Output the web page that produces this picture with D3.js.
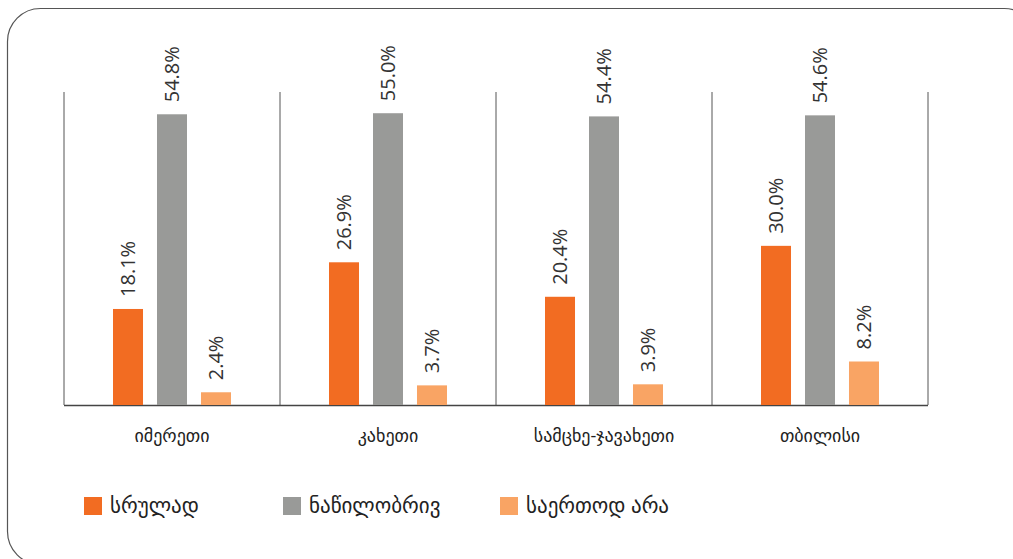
<!DOCTYPE html>
<html>
<head>
<meta charset="utf-8">
<script src="https://cdn.jsdelivr.net/npm/d3@7"></script>
<style>
  body { margin: 0; background: #fff; }
  svg { display: block; font-family: "Open Sans", "DejaVu Sans", sans-serif; }
</style>
</head>
<body>
<svg id="chart" width="1013" height="559"></svg>
<script>
// data
const regions = ['იმერეთი', 'კახეთი', 'სამცხე-ჯავახეთი', 'თბილისი']
const seriesNames = ['სრულად', 'ნაწილობრივ', 'საერთოდ არა']
const fully = [18.1, 26.9, 20.4, 30.0]
const partly = [54.8, 55.0, 54.4, 54.6]
const notAtAll = [2.4, 3.7, 3.9, 8.2]
const colors = ['#f26c22', '#999a98', '#f9a464']

const seriesValues = [fully, partly, notAtAll]

const svg = d3.select('#chart')

// frame with rounded corners (runs off the right/bottom edge)
svg.append('rect')
    .attr('x', 7.5)
    .attr('y', 8.5)
    .attr('width', 1030)
    .attr('height', 556)
    .attr('rx', 33)
    .attr('fill', 'none')
    .attr('stroke', '#555')
    .attr('stroke-width', 1.2)

const plotLeft = 64, plotRight = 928, plotTop = 92, plotBottom = 405

const x0 = d3.scaleBand()
    .domain(regions)
    .range([plotLeft, plotRight])

const x1 = d3.scaleBand()
    .domain(seriesNames)
    .range([49, 167])
    .paddingInner(0.318)

const y = d3.scaleLinear()
    .domain([0, 59])
    .range([plotBottom, plotTop])

// separators between regions
const seps = regions.map(r => x0(r)).concat([plotRight])
svg.append('g')
    .selectAll('line')
    .data(seps)
    .join('line')
    .attr('x1', d => d)
    .attr('x2', d => d)
    .attr('y1', plotTop)
    .attr('y2', plotBottom)
    .attr('stroke', '#555')
    .attr('stroke-width', 1)

// bottom axis line
svg.append('line')
    .attr('x1', plotLeft)
    .attr('x2', plotRight)
    .attr('y1', plotBottom + 0.5)
    .attr('y2', plotBottom + 0.5)
    .attr('stroke', '#444')
    .attr('stroke-width', 1.3)

// bars + labels
const groups = svg.append('g')
    .selectAll('g')
    .data(regions)
    .join('g')
    .attr('transform', d => `translate(${x0(d)},0)`)

seriesNames.forEach((s, si) => {
    const vals = seriesValues[si]
    groups.append('rect')
        .attr('x', x1(s))
        .attr('width', x1.bandwidth())
        .attr('y', (d, i) => y(vals[i]))
        .attr('height', (d, i) => y(0) - y(vals[i]))
        .attr('fill', colors[si])

    groups.append('text')
        .attr('transform', (d, i) =>
            `translate(${x1(s) + x1.bandwidth() / 2},${y(vals[i]) - 12}) rotate(-90)`)
        .attr('dy', '0.35em')
        .attr('text-anchor', 'start')
        .attr('font-size', 20)
        .attr('fill', '#333')
        .text((d, i) => vals[i].toFixed(1) + '%')
})

// category labels
svg.append('g')
    .selectAll('text')
    .data(regions)
    .join('text')
    .attr('x', d => x0(d) + x0.bandwidth() / 2)
    .attr('y', 442)
    .attr('text-anchor', 'middle')
    .attr('font-size', 18)
    .attr('fill', '#222')
    .text(d => d)

// legend
const legendX = [84, 283, 500]
const legend = svg.append('g')
    .selectAll('g')
    .data(seriesNames)
    .join('g')
    .attr('transform', (d, i) => `translate(${legendX[i]},497)`)

legend.append('rect')
    .attr('width', 18)
    .attr('height', 18)
    .attr('fill', (d, i) => colors[i])

legend.append('text')
    .attr('x', 26)
    .attr('y', 16)
    .attr('font-size', 21)
    .attr('fill', '#222')
    .text(d => d)
</script>
</body>
</html>
